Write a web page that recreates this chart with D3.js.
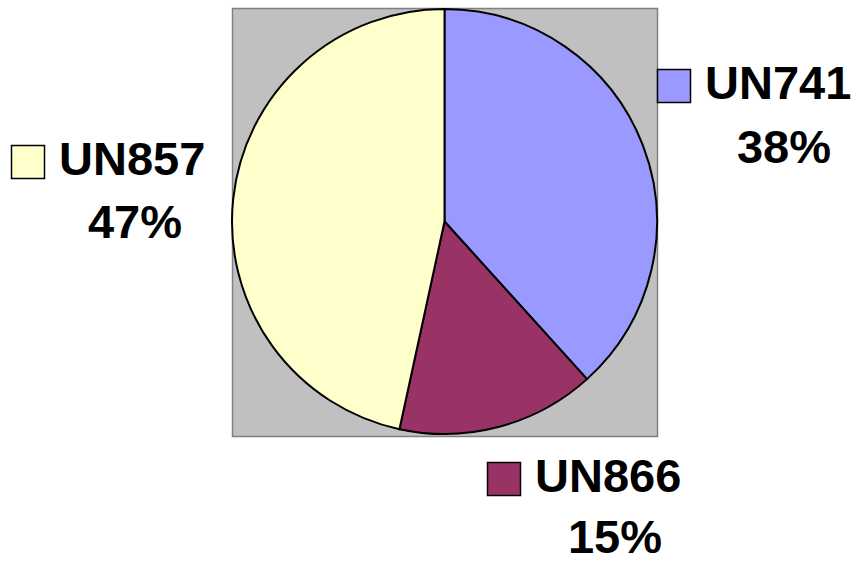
<!DOCTYPE html>
<html><head><meta charset="utf-8">
<script src="https://cdn.jsdelivr.net/npm/d3@7"></script>
<style>html,body{margin:0;padding:0;background:#fff;}svg{display:block;}</style>
</head><body>
<script>
const categories = ["UN741", "UN866", "UN857"];
const values = [38.3, 15.1, 46.6];
const percentLabels = ["38%", "15%", "47%"];
const colors = ["#9999FF", "#993366", "#FFFFCC"];

const W = 858, H = 562;
const svg = d3.select("body").append("svg").attr("width", W).attr("height", H);

// plot area
svg.append("rect").attr("x", 232.5).attr("y", 8.5).attr("width", 425).attr("height", 428)
  .attr("fill", "#C0C0C0").attr("stroke", "#808080").attr("stroke-width", 1.5);

const cx = 444.5, cy = 221.5, r = 212.5;
const pie = d3.pie().sort(null).value(d => d)(values);
const arc = d3.arc().innerRadius(0).outerRadius(r);
const g = svg.append("g").attr("transform", `translate(${cx},${cy})`);
g.selectAll("path").data(pie).join("path")
  .attr("d", arc)
  .attr("fill", (d, i) => colors[i])
  .attr("stroke", "#000").attr("stroke-width", 2).attr("stroke-linejoin", "round");

// label layout: [square left, name baseline, percent center x, percent baseline]
const layout = [[657, 99, 784, 163], [487, 492, 615, 553], [11, 175, 135, 238]];
const font = "'Liberation Sans', Arial, sans-serif";
categories.forEach((c, i) => {
  const [sx, by, px, pby] = layout[i];
  svg.append("rect").attr("x", sx + 0.5).attr("y", by - 30 + 0.5).attr("width", 33).attr("height", 33)
    .attr("fill", colors[i]).attr("stroke", "#000").attr("stroke-width", 1.5);
  svg.append("text").attr("x", sx + 48).attr("y", by)
    .attr("font-family", font).attr("font-weight", "bold").attr("font-size", 47)
    .attr("fill", "#000").text(c);
  svg.append("text").attr("x", px).attr("y", pby).attr("text-anchor", "middle")
    .attr("font-family", font).attr("font-weight", "bold").attr("font-size", 47)
    .attr("fill", "#000").text(percentLabels[i]);
});
</script>
</body></html>
